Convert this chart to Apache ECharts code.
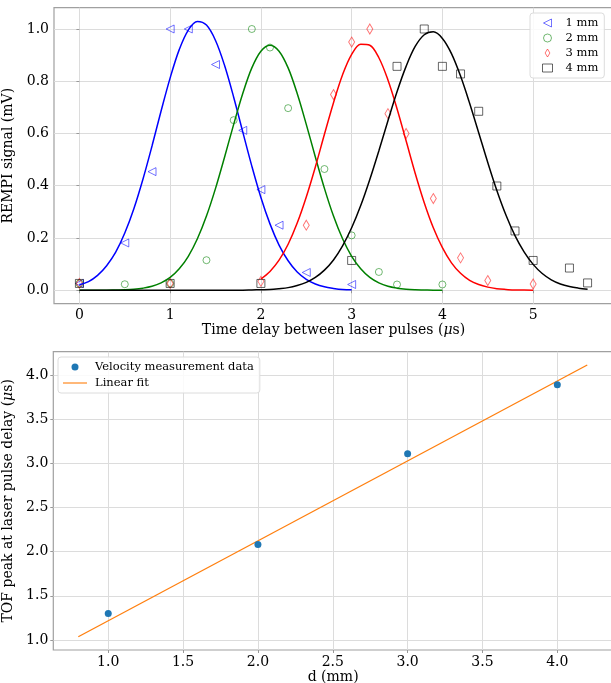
<!DOCTYPE html>
<html><head><meta charset="utf-8">
<script src="https://cdn.jsdelivr.net/npm/echarts@6/dist/echarts.min.js"></script>
<style>html,body{margin:0;padding:0;background:#fff}#c{width:611px;height:683px}</style>
</head><body><div id="c"></div>
<script>
// ---------- Top panel: REMPI signal vs delay ----------
var names = ['1 mm', '2 mm', '3 mm', '4 mm'];

var x1mm = [0, 0.5, 0.8, 1.0, 1.2, 1.5, 1.8, 2.0, 2.2, 2.5, 3.0];
var y1mm = [0.026, 0.181, 0.454, 1.0, 1.0, 0.864, 0.612, 0.385, 0.249, 0.068, 0.022];

var x2mm = [0, 0.5, 1.0, 1.4, 1.7, 1.9, 2.1, 2.3, 2.7, 3.0, 3.3, 3.5, 4.0];
var y2mm = [0.026, 0.023, 0.026, 0.115, 0.651, 1.0, 0.929, 0.697, 0.464, 0.210, 0.070, 0.022, 0.022];

var x3mm = [0, 1.0, 2.0, 2.5, 2.8, 3.0, 3.2, 3.4, 3.6, 3.9, 4.2, 4.5, 5.0];
var y3mm = [0.026, 0.026, 0.034, 0.249, 0.749, 0.950, 1.0, 0.676, 0.600, 0.351, 0.124, 0.037, 0.024];

var x4mm = [0, 1.0, 2.0, 3.0, 3.5, 3.8, 4.0, 4.2, 4.4, 4.6, 4.8, 5.0, 5.4, 5.6];
var y4mm = [0.026, 0.026, 0.026, 0.114, 0.857, 1.0, 0.857, 0.828, 0.685, 0.399, 0.227, 0.114, 0.085, 0.028];

// fitted curves
var fit1X = [0,0.1,0.2,0.3,0.4,0.5,0.6,0.7,0.8,0.9,1.0,1.1,1.2,1.3,1.4,1.5,1.6,1.7,1.8,1.9,2.0,2.1,2.2,2.3,2.4,2.5,2.6,2.7,2.8,2.9,3.0];
var fit1Y = [0.021,0.033,0.057,0.094,0.146,0.219,0.312,0.425,0.552,0.686,0.813,0.921,0.996,1.029,1.015,0.956,0.860,0.739,0.606,0.475,0.355,0.254,0.173,0.113,0.070,0.042,0.024,0.013,0.007,0.003,0.002];

var fit2X = [0,0.1,0.2,0.3,0.4,0.5,0.6,0.7,0.8,0.9,1.0,1.1,1.2,1.3,1.4,1.5,1.6,1.7,1.8,1.9,2.0,2.1,2.2,2.3,2.4,2.5,2.6,2.7,2.8,2.9,3.0,3.1,3.2,3.3,3.4,3.5,3.6,3.7,3.8,3.9,4.0];
var fit2Y = [0,0,0,0,0.001,0.002,0.004,0.008,0.015,0.028,0.049,0.082,0.130,0.197,0.284,0.390,0.510,0.635,0.753,0.851,0.915,0.938,0.915,0.851,0.753,0.635,0.510,0.390,0.284,0.197,0.130,0.082,0.049,0.028,0.015,0.008,0.004,0.002,0.001,0,0];

var fit3X = [2.0,2.1,2.2,2.3,2.4,2.5,2.6,2.7,2.8,2.9,3.0,3.1,3.2,3.3,3.4,3.5,3.6,3.7,3.8,3.9,4.0,4.1,4.2,4.3,4.4,4.5,4.6,4.7,4.8,4.9,5.0];
var fit3Y = [0.043,0.072,0.115,0.176,0.257,0.357,0.472,0.597,0.718,0.825,0.903,0.942,0.938,0.890,0.805,0.695,0.572,0.448,0.335,0.239,0.163,0.105,0.065,0.038,0.022,0.012,0.006,0.003,0.001,0.001,0];

var fit4X = [0,0.5,1.0,1.5,1.8,1.9,2.0,2.1,2.2,2.3,2.4,2.5,2.6,2.7,2.8,2.9,3.0,3.1,3.2,3.3,3.4,3.5,3.6,3.7,3.8,3.9,4.0,4.1,4.2,4.3,4.4,4.5,4.6,4.7,4.8,4.9,5.0,5.1,5.2,5.3,5.4,5.5,5.6];
var fit4Y = [0,0,0,0,0,0.001,0.002,0.003,0.006,0.010,0.018,0.030,0.049,0.077,0.116,0.170,0.239,0.324,0.424,0.534,0.649,0.760,0.857,0.933,0.978,0.989,0.964,0.906,0.820,0.716,0.603,0.489,0.382,0.288,0.209,0.147,0.099,0.064,0.040,0.024,0.014,0.008,0.004];

var topXTicks = [0, 1, 2, 3, 4, 5];
var topYTicks = [0, 0.2, 0.4, 0.6, 0.8, 1.0];

// ---------- Bottom panel: TOF peak vs distance ----------
var dMm = [1, 2, 3, 4];
var tofPeak = [1.30, 2.08, 3.11, 3.89];
var linFitX = [0.8, 4.2];
var linFitY = [1.037, 4.113];
var botXTicks = [1.0, 1.5, 2.0, 2.5, 3.0, 3.5, 4.0];
var botYTicks = [1.0, 1.5, 2.0, 2.5, 3.0, 3.5, 4.0];

function pairs(xs, ys) { return xs.map(function (x, i) { return [x, ys[i]]; }); }

var FONT = 'DejaVu Serif';
var gridLine = { show: true, lineStyle: { color: '#dcdcdc', width: 1 } };
var tick = function (vals) { return { show: true, length: 3, lineStyle: { color: '#999' }, customValues: vals }; };
var lbl = function (vals, dec) {
  return { customValues: vals, margin: 5, fontFamily: FONT, fontSize: 14, color: '#000',
    formatter: function (v) { return Number(v).toFixed(dec); } };
};
var nameStyle = { fontFamily: FONT, fontSize: 14, color: '#000',
  rich: { a: { fontFamily: FONT, fontSize: 14, color: '#000' },
          b: { fontFamily: FONT, fontSize: 14, color: '#000', fontStyle: 'italic' } } };

var colors = ['#0000ff', '#008000', '#ff0000', '#000000'];
var markerBorder = ['rgba(0,0,255,0.55)', 'rgba(0,128,0,0.55)', 'rgba(255,0,0,0.55)', 'rgba(0,0,0,0.6)'];
var symbols = ['triangle', 'circle', 'diamond', 'rect'];
var symSizes = [[8, 8], 7, [6, 10], 8];
var rots = [90, 0, 0, 0];
var legendIcons = ['path://M10,0 L0,5 L10,10 Z', 'circle', 'path://M3,0 L6,5 L3,10 L0,5 Z', 'rect'];
var scatX = [x1mm, x2mm, x3mm, x4mm];
var scatY = [y1mm, y2mm, y3mm, y4mm];
var fitsX = [fit1X, fit2X, fit3X, fit4X];
var fitsY = [fit1Y, fit2Y, fit3Y, fit4Y];

var series = [];
for (var i = 0; i < 4; i++) {
  series.push({
    name: names[i], type: 'scatter', xAxisIndex: 0, yAxisIndex: 0,
    data: pairs(scatX[i], scatY[i]),
    symbol: symbols[i], symbolSize: symSizes[i], symbolRotate: rots[i],
    itemStyle: { color: 'rgba(255,255,255,0)', borderColor: markerBorder[i], borderWidth: 1, opacity: 1 },
    z: 3
  });
}
for (var j = 0; j < 4; j++) {
  series.push({
    name: 'fit ' + names[j], type: 'line', xAxisIndex: 0, yAxisIndex: 0,
    data: pairs(fitsX[j], fitsY[j]), symbol: 'none', smooth: 0.35,
    lineStyle: { color: colors[j], width: 1.5 }, z: 4
  });
}
series.push({
  name: 'Velocity measurement data', type: 'scatter', xAxisIndex: 1, yAxisIndex: 1,
  data: pairs(dMm, tofPeak), symbol: 'circle', symbolSize: 7,
  itemStyle: { color: '#1f77b4', opacity: 1 }, z: 4
});
series.push({
  name: 'Linear fit', type: 'line', xAxisIndex: 1, yAxisIndex: 1,
  data: pairs(linFitX, linFitY), symbol: 'none',
  lineStyle: { color: '#ff7f0e', width: 1.3 }, itemStyle: { color: '#ff7f0e' }, z: 3
});

var topLegendData = names.map(function (n, k) {
  return { name: n, icon: legendIcons[k],
    itemStyle: { color: 'rgba(255,255,255,0)', borderColor: markerBorder[k], borderWidth: 1 } };
});

var option = {
  animation: false,
  backgroundColor: '#fff',
  grid: [
    { left: 54, right: -2, top: 7.7, height: 296, outerBoundsMode: 'none', containLabel: false,
      show: true, borderColor: '#a0a0a0', borderWidth: 1.2, backgroundColor: '#fff' },
    { left: 53.3, right: -2, top: 351.7, height: 298.3, outerBoundsMode: 'none', containLabel: false,
      show: true, borderColor: '#a0a0a0', borderWidth: 1.2, backgroundColor: '#fff' }
  ],
  xAxis: [
    { type: 'value', gridIndex: 0, min: -0.28, max: 5.88,
      axisLine: { show: false }, axisTick: tick(topXTicks), axisLabel: lbl(topXTicks, 0), splitLine: gridLine,
      name: '{a|Time delay between laser pulses (}{b|μ}{a|s)}', nameLocation: 'middle', nameGap: 18, nameTextStyle: nameStyle },
    { type: 'value', gridIndex: 1, min: 0.633, max: 4.372,
      axisLine: { show: false }, axisTick: tick(botXTicks), axisLabel: lbl(botXTicks, 1), splitLine: gridLine,
      name: 'd (mm)', nameLocation: 'middle', nameGap: 17, nameTextStyle: nameStyle }
  ],
  yAxis: [
    { type: 'value', gridIndex: 0, min: -0.0515, max: 1.0815,
      axisLine: { show: false }, axisTick: tick(topYTicks), axisLabel: lbl(topYTicks, 1), splitLine: gridLine,
      name: 'REMPI signal (mV)', nameLocation: 'middle', nameGap: 28, nameTextStyle: nameStyle },
    { type: 'value', gridIndex: 1, min: 0.887, max: 4.264,
      axisLine: { show: false }, axisTick: tick(botYTicks), axisLabel: lbl(botYTicks, 1), splitLine: gridLine,
      name: '{a|TOF peak at laser pulse delay (}{b|μ}{a|s)}', nameLocation: 'middle', nameGap: 28, nameTextStyle: nameStyle }
  ],
  legend: [
    { data: topLegendData,
      orient: 'vertical', left: 530, top: 13, itemWidth: 10, itemHeight: 8, itemGap: 3,
      padding: [4, 6, 4, 12], backgroundColor: 'rgba(255,255,255,0.85)', borderColor: '#dcdcdc', borderWidth: 1, borderRadius: 3,
      textStyle: { fontFamily: FONT, fontSize: 11.5, color: '#000', padding: [0, 0, 0, 8] } },
    { data: [
        { name: 'Velocity measurement data', icon: 'circle' },
        { name: 'Linear fit', icon: 'path://M0,0 H24 V1.5 H0 Z', itemStyle: { color: '#ffa04d' } }
      ],
      orient: 'vertical', left: 58, top: 357, itemWidth: 24, itemHeight: 7, itemGap: 4,
      padding: [4, 6, 4, 5], backgroundColor: 'rgba(255,255,255,0.85)', borderColor: '#dcdcdc', borderWidth: 1, borderRadius: 3,
      textStyle: { fontFamily: FONT, fontSize: 11.5, color: '#000', padding: [0, 0, 0, 3] } }
  ],
  series: series
};
var chart = echarts.init(document.getElementById('c'), null, { renderer: 'canvas' });
chart.setOption(option);
</script></body></html>
